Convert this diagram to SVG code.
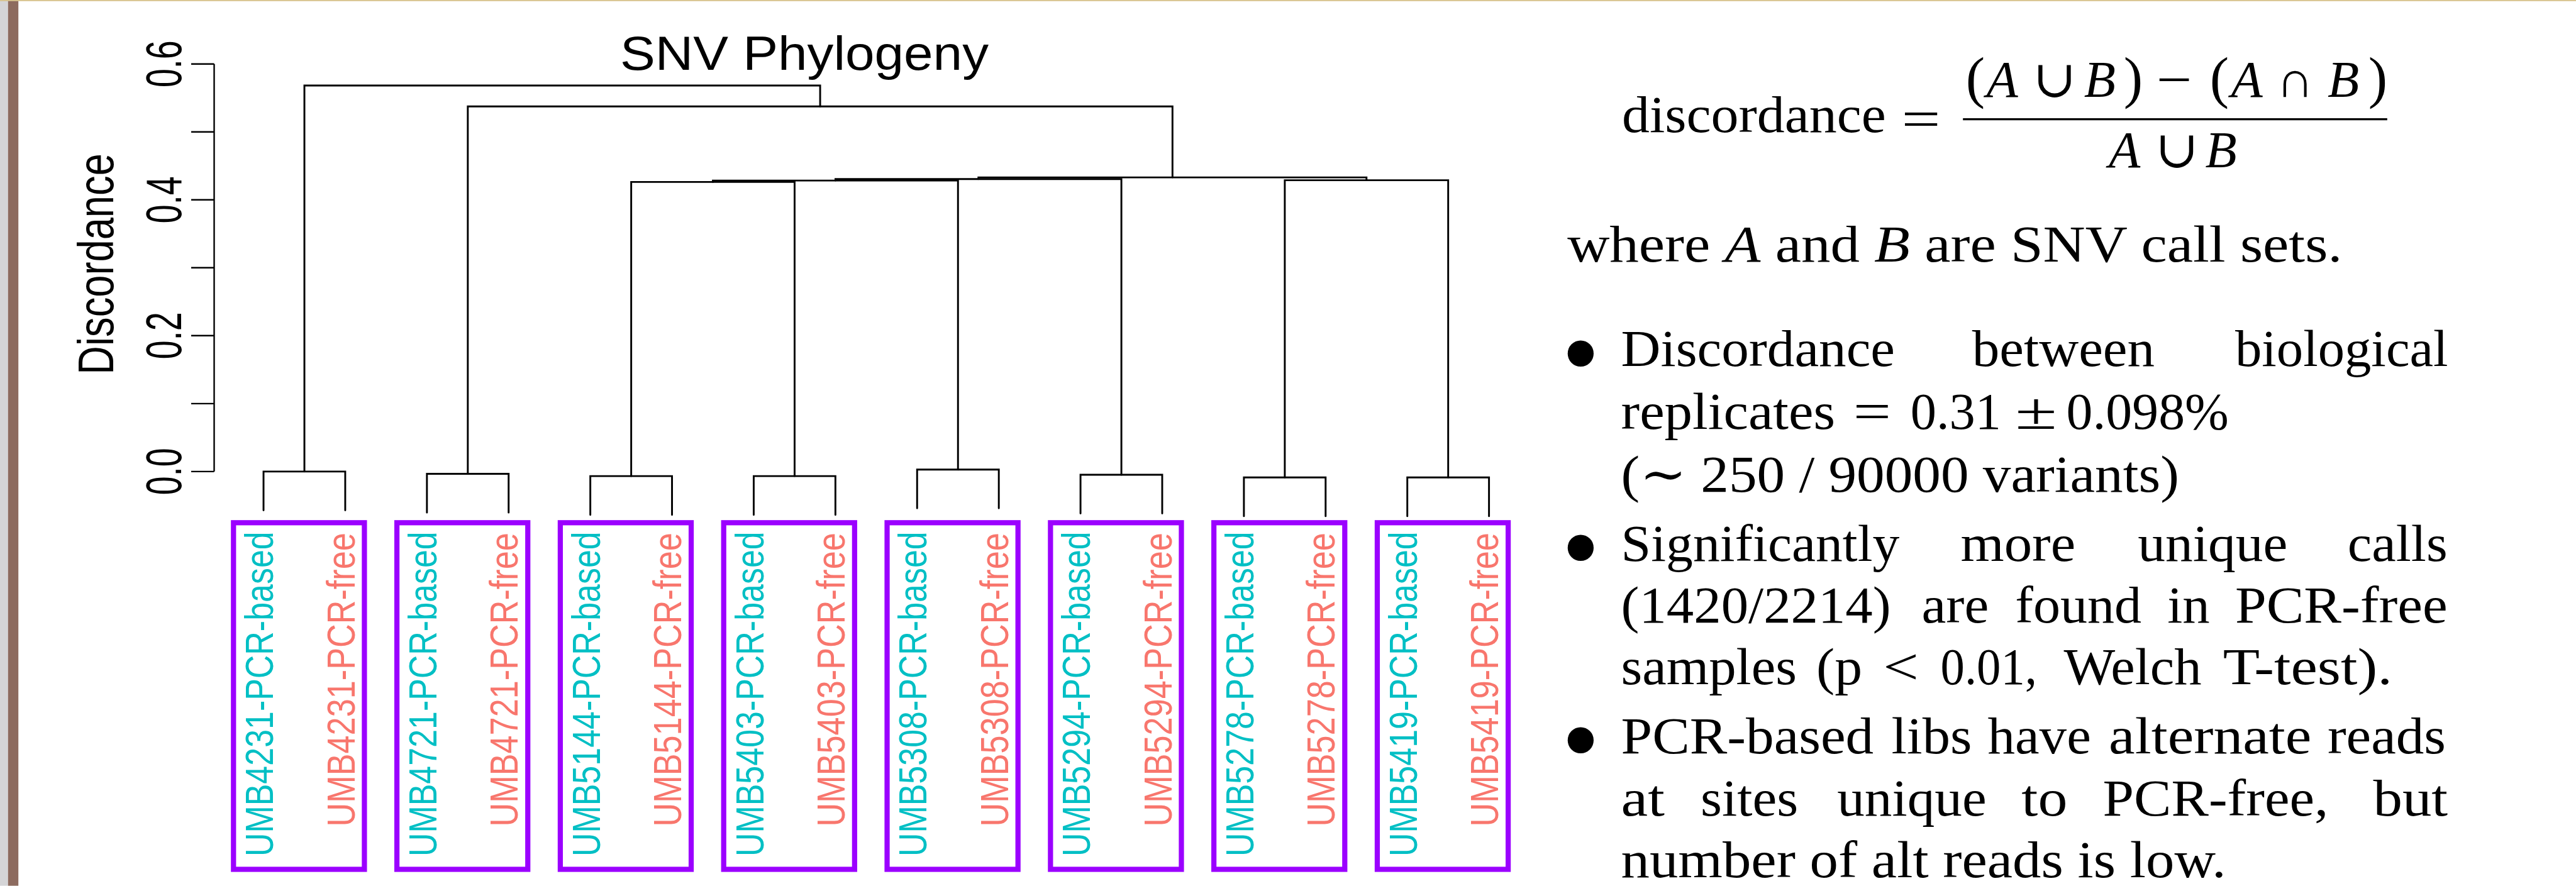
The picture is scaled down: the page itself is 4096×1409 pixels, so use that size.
<svg xmlns="http://www.w3.org/2000/svg" width="4096" height="1409" viewBox="0 0 4096 1409">
<style>
.den{fill:none;stroke:#000;stroke-width:3.2;stroke-linecap:round;stroke-linejoin:miter}
.ax{fill:none;stroke:#000;stroke-width:2.6}
.box{fill:none;stroke:#9b00ff;stroke-width:9}
.lb{font-family:'Liberation Sans',Arial,sans-serif;font-size:69px;text-anchor:end}
.based{fill:#00bfc4}
.free{fill:#f8766d}
.tk{font-family:'Liberation Sans',Arial,sans-serif;font-size:87px;text-anchor:middle;fill:#000}
.tx{font-family:'Liberation Serif','DejaVu Serif',serif;font-size:90px;fill:#000}
.it{font-style:italic}
.pa{font-size:100px}
.bul{font-family:'Liberation Serif','DejaVu Serif',serif;font-size:190px;fill:#000}
</style>
<rect x="0" y="0" width="4096" height="1409" fill="#fff"/>
<g transform="scale(0.9129)">
<g id="frame">
<rect x="0" y="0" width="14" height="1543" fill="#d5d5d7"/>
<rect x="14" y="0" width="18" height="1543" fill="#8d6b5f"/>
<rect x="0" y="0" width="4487" height="2" fill="#d8c38e"/>
</g>
<g id="axis">
<path class="ax" d="M373,111.4V821.4M333,821.4H373M333,703.1H373M333,584.7H373M333,466.4H373M333,348.1H373M333,229.8H373M333,111.4H373"/>
<text class="tk" transform="translate(316,821.4) rotate(-90)" textLength="82" lengthAdjust="spacingAndGlyphs">0.0</text>
<text class="tk" transform="translate(316,584.7) rotate(-90)" textLength="82" lengthAdjust="spacingAndGlyphs">0.2</text>
<text class="tk" transform="translate(316,348.1) rotate(-90)" textLength="82" lengthAdjust="spacingAndGlyphs">0.4</text>
<text class="tk" transform="translate(316,111.4) rotate(-90)" textLength="82" lengthAdjust="spacingAndGlyphs">0.6</text>
<text class="tk" font-size="88" transform="translate(197,460) rotate(-90)" textLength="385" lengthAdjust="spacingAndGlyphs">Discordance</text>
</g>
<text id="title" x="1080" y="121.7" font-family="'Liberation Sans',Arial,sans-serif" font-size="83" textLength="642" lengthAdjust="spacingAndGlyphs">SNV Phylogeny</text>
<g id="connectors">
<path class="den" d="M459,888.9V821.4H601.3V888.9"/>
<path class="den" d="M743.6,892.9V825.4H885.9V892.9"/>
<path class="den" d="M1028.2,896.9V829.4H1170.5V896.9"/>
<path class="den" d="M1312.8,896.9V829.4H1455.1V896.9"/>
<path class="den" d="M1597.4,885.5V818H1739.7V885.5"/>
<path class="den" d="M1882,894.5V827H2024.3V894.5"/>
<path class="den" d="M2166.6,899.2V831.7H2308.9V899.2"/>
<path class="den" d="M2451.2,899.2V831.7H2593.5V899.2"/>
<path class="den" d="M1099.4,829.4V317H1384V829.4"/>
<path class="den" d="M1241.7,317V314.5H1668.6V818"/>
<path class="den" d="M1455.2,314.5V312H1953.2V827"/>
<path class="den" d="M2237.8,831.7V314H2522.4V831.7"/>
<path class="den" d="M1704.2,312V309H2380.1V314"/>
<path class="den" d="M814.8,825.4V185.4H2042.2V309"/>
<path class="den" d="M530.2,821.4V149H1428.5V185.4"/>
</g>
<g id="pair-UMB4231">
<rect class="box" x="406.7" y="910.6" width="228" height="603.8"/>
<text class="lb based" transform="translate(475.5,926) rotate(-90)" textLength="566" lengthAdjust="spacingAndGlyphs">UMB4231-PCR-based</text>
<text class="lb free" transform="translate(617.3,928) rotate(-90)" textLength="512" lengthAdjust="spacingAndGlyphs">UMB4231-PCR-free</text>
</g>
<g id="pair-UMB4721">
<rect class="box" x="691.3" y="910.6" width="228" height="603.8"/>
<text class="lb based" transform="translate(760.1,926) rotate(-90)" textLength="566" lengthAdjust="spacingAndGlyphs">UMB4721-PCR-based</text>
<text class="lb free" transform="translate(901.9,928) rotate(-90)" textLength="512" lengthAdjust="spacingAndGlyphs">UMB4721-PCR-free</text>
</g>
<g id="pair-UMB5144">
<rect class="box" x="975.9" y="910.6" width="228" height="603.8"/>
<text class="lb based" transform="translate(1044.7,926) rotate(-90)" textLength="566" lengthAdjust="spacingAndGlyphs">UMB5144-PCR-based</text>
<text class="lb free" transform="translate(1186.5,928) rotate(-90)" textLength="512" lengthAdjust="spacingAndGlyphs">UMB5144-PCR-free</text>
</g>
<g id="pair-UMB5403">
<rect class="box" x="1260.5" y="910.6" width="228" height="603.8"/>
<text class="lb based" transform="translate(1329.3,926) rotate(-90)" textLength="566" lengthAdjust="spacingAndGlyphs">UMB5403-PCR-based</text>
<text class="lb free" transform="translate(1471.1,928) rotate(-90)" textLength="512" lengthAdjust="spacingAndGlyphs">UMB5403-PCR-free</text>
</g>
<g id="pair-UMB5308">
<rect class="box" x="1545.1" y="910.6" width="228" height="603.8"/>
<text class="lb based" transform="translate(1613.9,926) rotate(-90)" textLength="566" lengthAdjust="spacingAndGlyphs">UMB5308-PCR-based</text>
<text class="lb free" transform="translate(1755.7,928) rotate(-90)" textLength="512" lengthAdjust="spacingAndGlyphs">UMB5308-PCR-free</text>
</g>
<g id="pair-UMB5294">
<rect class="box" x="1829.7" y="910.6" width="228" height="603.8"/>
<text class="lb based" transform="translate(1898.5,926) rotate(-90)" textLength="566" lengthAdjust="spacingAndGlyphs">UMB5294-PCR-based</text>
<text class="lb free" transform="translate(2040.3,928) rotate(-90)" textLength="512" lengthAdjust="spacingAndGlyphs">UMB5294-PCR-free</text>
</g>
<g id="pair-UMB5278">
<rect class="box" x="2114.3" y="910.6" width="228" height="603.8"/>
<text class="lb based" transform="translate(2183.1,926) rotate(-90)" textLength="566" lengthAdjust="spacingAndGlyphs">UMB5278-PCR-based</text>
<text class="lb free" transform="translate(2324.9,928) rotate(-90)" textLength="512" lengthAdjust="spacingAndGlyphs">UMB5278-PCR-free</text>
</g>
<g id="pair-UMB5419">
<rect class="box" x="2398.9" y="910.6" width="228" height="603.8"/>
<text class="lb based" transform="translate(2467.7,926) rotate(-90)" textLength="566" lengthAdjust="spacingAndGlyphs">UMB5419-PCR-based</text>
<text class="lb free" transform="translate(2609.5,928) rotate(-90)" textLength="512" lengthAdjust="spacingAndGlyphs">UMB5419-PCR-free</text>
</g>
<g id="formula">
<text class="tx" x="2825" y="229.6" textLength="460" lengthAdjust="spacingAndGlyphs">discordance</text>
<text class="tx" x="3312" y="238" textLength="68" lengthAdjust="spacingAndGlyphs">=</text>
<text class="tx" y="168.4"><tspan x="3424" class="pa">(</tspan><tspan x="3460" class="it">A</tspan> <tspan x="3541">∪</tspan> <tspan x="3630" class="it">B</tspan><tspan x="3699" class="pa">)</tspan> <tspan x="3756" textLength="62" lengthAdjust="spacingAndGlyphs">−</tspan> <tspan x="3849" class="pa">(</tspan><tspan x="3886" class="it">A</tspan> <tspan x="3965">∩</tspan> <tspan x="4054" class="it">B</tspan><tspan x="4125" class="pa">)</tspan></text>
<line x1="3419" y1="207.7" x2="4158" y2="207.7" stroke="#000" stroke-width="3.5"/>
<text class="tx" y="291.8"><tspan x="3673" class="it">A</tspan> <tspan x="3754">∪</tspan> <tspan x="3841" class="it">B</tspan></text>
</g>
<g id="notes">
<text class="tx" x="2730" y="455.6" textLength="1350" lengthAdjust="spacingAndGlyphs">where <tspan class="it">A</tspan> and <tspan class="it">B</tspan> are SNV call sets.</text>
<text class="bul" x="2720" y="679">•</text>
<text class="bul" x="2720" y="1018">•</text>
<text class="bul" x="2720" y="1353">•</text>
<text class="tx" y="637.8"><tspan x="2823.5" textLength="477" lengthAdjust="spacingAndGlyphs">Discordance</tspan> <tspan x="3435" textLength="318" lengthAdjust="spacingAndGlyphs">between</tspan> <tspan x="3893" textLength="371" lengthAdjust="spacingAndGlyphs">biological</tspan></text>
<text class="tx" y="747.4"><tspan x="2823.5" textLength="373" lengthAdjust="spacingAndGlyphs">replicates</tspan> <tspan x="3228" textLength="66" lengthAdjust="spacingAndGlyphs">=</tspan> <tspan x="3327.5" textLength="158" lengthAdjust="spacingAndGlyphs">0.31</tspan> <tspan x="3510" textLength="73" lengthAdjust="spacingAndGlyphs">±</tspan> <tspan x="3599" textLength="283" lengthAdjust="spacingAndGlyphs">0.098%</tspan></text>
<text class="tx" x="2823.5" y="857" textLength="972" lengthAdjust="spacingAndGlyphs">(∼ 250 / 90000 variants)</text>
<text class="tx" y="976.9"><tspan x="2823.5" textLength="485" lengthAdjust="spacingAndGlyphs">Significantly</tspan> <tspan x="3415" textLength="200" lengthAdjust="spacingAndGlyphs">more</tspan> <tspan x="3723.5" textLength="261" lengthAdjust="spacingAndGlyphs">unique</tspan> <tspan x="4089" textLength="174" lengthAdjust="spacingAndGlyphs">calls</tspan></text>
<text class="tx" y="1084.4"><tspan x="2823.5" textLength="470" lengthAdjust="spacingAndGlyphs">(1420/2214)</tspan> <tspan x="3347" textLength="117" lengthAdjust="spacingAndGlyphs">are</tspan> <tspan x="3510" textLength="220" lengthAdjust="spacingAndGlyphs">found</tspan> <tspan x="3775" textLength="74" lengthAdjust="spacingAndGlyphs">in</tspan> <tspan x="3893" textLength="370" lengthAdjust="spacingAndGlyphs">PCR-free</tspan></text>
<text class="tx" y="1192"><tspan x="2823.5" textLength="306" lengthAdjust="spacingAndGlyphs">samples</tspan> <tspan x="3163.5" textLength="80" lengthAdjust="spacingAndGlyphs">(p</tspan> <tspan x="3280" textLength="62" lengthAdjust="spacingAndGlyphs">&lt;</tspan> <tspan x="3380" textLength="168" lengthAdjust="spacingAndGlyphs">0.01,</tspan> <tspan x="3594.5" textLength="240" lengthAdjust="spacingAndGlyphs">Welch</tspan> <tspan x="3872" textLength="295" lengthAdjust="spacingAndGlyphs">T-test).</tspan></text>
<text class="tx" y="1311.8"><tspan x="2823.5" textLength="440" lengthAdjust="spacingAndGlyphs">PCR-based</tspan> <tspan x="3294.5" textLength="140" lengthAdjust="spacingAndGlyphs">libs</tspan> <tspan x="3462" textLength="180" lengthAdjust="spacingAndGlyphs">have</tspan> <tspan x="3673" textLength="353" lengthAdjust="spacingAndGlyphs">alternate</tspan> <tspan x="4054" textLength="206" lengthAdjust="spacingAndGlyphs">reads</tspan></text>
<text class="tx" y="1420.4"><tspan x="2823.5" textLength="76" lengthAdjust="spacingAndGlyphs">at</tspan> <tspan x="2962" textLength="170" lengthAdjust="spacingAndGlyphs">sites</tspan> <tspan x="3200" textLength="260" lengthAdjust="spacingAndGlyphs">unique</tspan> <tspan x="3521" textLength="80" lengthAdjust="spacingAndGlyphs">to</tspan> <tspan x="3662.5" textLength="393" lengthAdjust="spacingAndGlyphs">PCR-free,</tspan> <tspan x="4133.5" textLength="130" lengthAdjust="spacingAndGlyphs">but</tspan></text>
<text class="tx" x="2823.5" y="1528" textLength="1054" lengthAdjust="spacingAndGlyphs">number of alt reads is low.</text>
</g>
</g>
</svg>
